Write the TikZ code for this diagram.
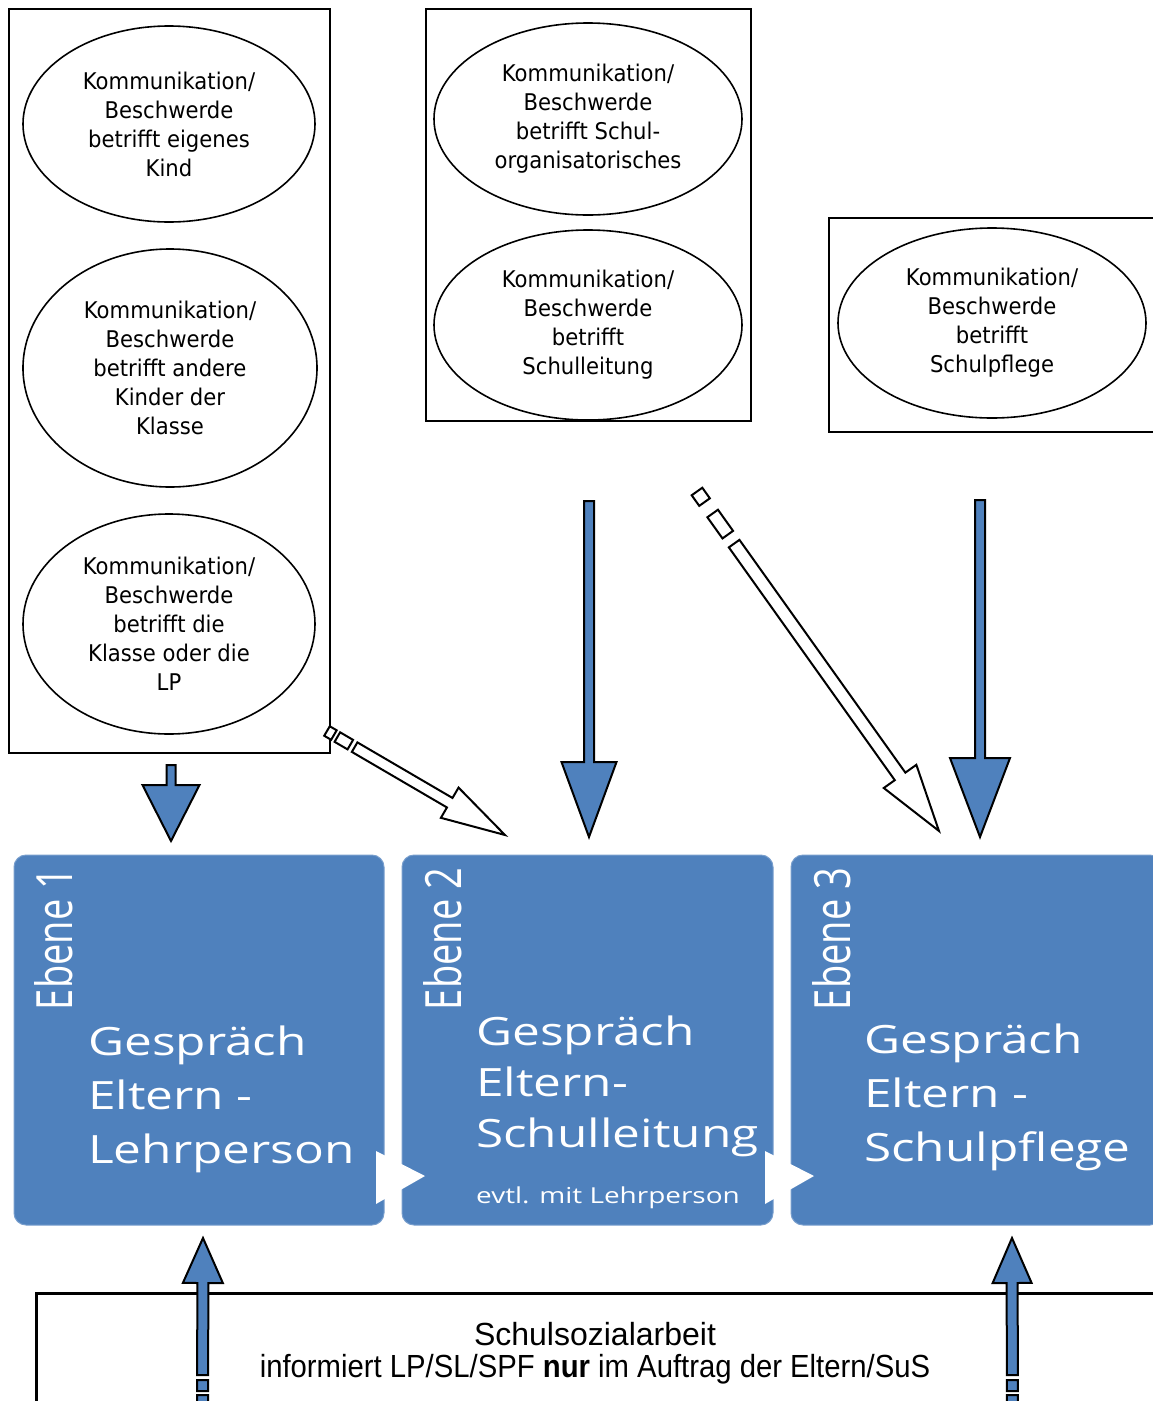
\documentclass[tikz,border=0pt]{standalone}
\usepackage{fontspec}
\setmainfont{Liberation Sans}
\newfontfamily\ellfont[FakeStretch=0.92]{DejaVu Sans}
\newfontfamily\boxfont[FakeStretch=1.27]{Open Sans}
\newfontfamily\ebenefont[FakeStretch=0.76]{Open Sans}
\usetikzlibrary{shapes.geometric,calc}
\definecolor{ablue}{RGB}{79,129,189}
\definecolor{aedge}{RGB}{120,158,205}

% #1 style, #2 tail, #3 tip, #4 shaft half width, #5 head half width, #6 head length, #7 shaft start
\newcommand{\blockarrow}[7]{%
  \path let \p1=($(#3)-(#2)$), \n1={atan2(\y1,\x1)}, \n2={veclen(\x1,\y1)} in
    \pgfextra{\xdef\baang{\n1}\xdef\balen{\n2}};
  \begin{scope}[shift={(#2)},rotate=\baang]
    \draw[#1] (#7,-#4) -- (\balen-#6,-#4) -- (\balen-#6,-#5) -- (\balen,0)
      -- (\balen-#6,#5) -- (\balen-#6,#4) -- (#7,#4) -- cycle;
  \end{scope}}
% stripes of the last arrow: #1 style, #2 tail, #3 half width, #4 list a/b
\newcommand{\bastripes}[4]{%
  \begin{scope}[shift={(#2)},rotate=\baang]
    \foreach \sa/\sb in {#4} {\draw[#1] (\sa,-#3) rectangle (\sb,#3);}
  \end{scope}}

\tikzset{
  frame/.style={draw=black, line width=1.5pt, inner sep=0pt},
  ell/.style={ellipse, draw=black, line width=1.6pt, inner sep=0pt, align=center,
    font=\ellfont\fontsize{23}{29}\selectfont},
  bluebox/.style={rectangle, rounded corners=12pt, fill=ablue, draw=aedge, line width=1pt, inner sep=0pt},
  ebene/.style={text=white, inner sep=0pt, font=\ebenefont\fontsize{50}{60}\selectfont},
  boxtext/.style={text=white, inner sep=0pt, align=left, anchor=north west},
  bluearrow/.style={fill=ablue, draw=black, line width=2pt, line join=miter},
  whitearrow/.style={fill=white, draw=black, line width=2pt, line join=miter},
}

\begin{document}
\begin{tikzpicture}[x=1pt,y=-1pt]
\useasboundingbox (0,0) rectangle (1152,1401);

% frames
\node[frame, minimum width=321, minimum height=744] (f1) at (169.5,381) {};
\node[frame, minimum width=325, minimum height=412] (f2) at (588.5,215) {};
\node[frame, minimum width=341, minimum height=214] (f3) at (999.5,325) {};

% ellipses
\node[ell, minimum width=292, minimum height=196] (e1) at (169,124)
  {Kommunikation/\\Beschwerde\\betrifft eigenes\\Kind};
\node[ell, minimum width=294, minimum height=238] (e2) at (170,368)
  {Kommunikation/\\Beschwerde\\betrifft andere\\Kinder der\\Klasse};
\node[ell, minimum width=292, minimum height=220] (e3) at (169,624)
  {Kommunikation/\\Beschwerde\\betrifft die\\Klasse oder die\\LP};
\node[ell, minimum width=308, minimum height=192] (e4) at (588,119)
  {Kommunikation/\\Beschwerde\\betrifft Schul-\\organisatorisches};
\node[ell, minimum width=308, minimum height=190] (e5) at (588,325)
  {Kommunikation/\\Beschwerde\\betrifft\\Schulleitung};
\node[ell, minimum width=308, minimum height=190] (e6) at (992,323)
  {Kommunikation/\\Beschwerde\\betrifft\\Schulpflege};

% blue boxes
\node[bluebox, minimum width=370, minimum height=370] (b1) at (199,1040) {};
\node[bluebox, minimum width=371, minimum height=370] (b2) at (587.5,1040) {};
\node[bluebox, minimum width=371, minimum height=370] (b3) at (976.5,1040) {};

\node[ebene, rotate=90] (eb1) at (54,939) {Ebene 1};
\node[ebene, rotate=90] (eb2) at (443,939) {Ebene 2};
\node[ebene, rotate=90] (eb3) at (832,939) {Ebene 3};

\node[boxtext, font=\boxfont\fontsize{39}{54}\selectfont] (t1) at (88,1026)
  {Gespräch\\Eltern -\\Lehrperson};
\node[boxtext, font=\boxfont\fontsize{39}{51}\selectfont] (t2) at (476,1016)
  {Gespräch\\Eltern-\\Schulleitung};
\node[text=white, inner sep=0pt, anchor=base west, font=\boxfont\fontsize{22}{26}\selectfont] (t2b) at (476,1203)
  {evtl. mit Lehrperson};
\node[boxtext, font=\boxfont\fontsize{39}{54}\selectfont] (t3) at (864,1024)
  {Gespräch\\Eltern -\\Schulpflege};

% white triangles between boxes
\fill[white] (376,1151) -- (425,1176) -- (376,1204) -- cycle;
\fill[white] (765,1151) -- (814,1176) -- (765,1204) -- cycle;

% bottom frame
\draw[line width=3pt] (36,1420) -- (36,1293) -- (1170,1293);
\node[inner sep=0pt, anchor=north, align=center, font=\fontsize{32}{32}\selectfont] (ssa) at (595,1322.5)
  {Schulsozialarbeit\\\scalebox{0.915}[1]{informiert LP/SL/SPF \textbf{nur} im Auftrag der Eltern/SuS}};

% arrow end points
\coordinate (a1s) at (171,765);  \coordinate (a1e) at (171,841);
\coordinate (a2s) at (589,501);  \coordinate (a2e) at (589,837);
\coordinate (a3s) at (980,500);  \coordinate (a3e) at (980,837);
\coordinate (d1s) at (327,731);  \coordinate (d1e) at (505,835);
\coordinate (d2s) at (697,491.5);\coordinate (d2e) at (939,831);
\coordinate (u1s) at (202.5,1420); \coordinate (u1e) at (203,1238);
\coordinate (u2s) at (1012.5,1420);\coordinate (u2e) at (1012,1238);

\blockarrow{bluearrow}{a1s}{a1e}{4.5}{28.5}{56}{0}
\blockarrow{bluearrow}{a2s}{a2e}{5}{27.5}{75}{0}
\blockarrow{bluearrow}{a3s}{a3e}{5}{30}{79}{0}

\blockarrow{whitearrow}{d1s}{d1e}{5.5}{17.5}{64}{32}
\bastripes{whitearrow}{d1s}{5.5}{0/8,12/27}
\blockarrow{whitearrow}{d2s}{d2e}{6.5}{20}{67}{64}
\bastripes{whitearrow}{d2s}{6.5}{0/13,27/53}

\blockarrow{bluearrow}{u1s}{u1e}{5.5}{20}{45}{45}
\bastripes{bluearrow}{u1s}{5.5}{10/25,29/40}
\blockarrow{bluearrow}{u2s}{u2e}{5.5}{19.5}{45}{45}
\bastripes{bluearrow}{u2s}{5.5}{10/25,29/40}
\end{tikzpicture}
\end{document}
